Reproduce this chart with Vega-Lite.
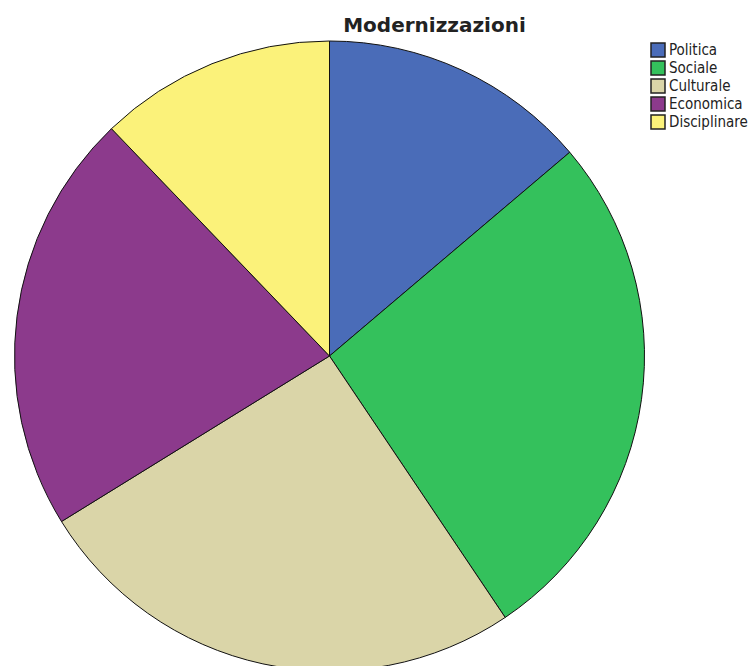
{
  "$schema": "https://vega.github.io/schema/vega-lite/v6.json",
  "autosize": "none",
  "padding": {"left": 0, "top": 0, "right": 92, "bottom": 0},
  "width": 659,
  "height": 712,
  "background": "white",
  "view": {"stroke": null},
  "title": {
    "text": "Modernizzazioni",
    "font": "DejaVu Sans",
    "fontSize": 20,
    "fontWeight": "bold",
    "color": "#222222",
    "anchor": "middle",
    "frame": "group",
    "baseline": "top",
    "dx": 105,
    "dy": 6,
    "offset": -30
  },
  "data": {
    "values": [
      {"categoria": "Politica", "valore": 49.7, "ordine": 1},
      {"categoria": "Sociale", "valore": 96.4, "ordine": 2},
      {"categoria": "Culturale", "valore": 92.2, "ordine": 3},
      {"categoria": "Economica", "valore": 77.9, "ordine": 4},
      {"categoria": "Disciplinare", "valore": 43.8, "ordine": 5}
    ]
  },
  "mark": {"type": "arc", "outerRadius": 315, "stroke": "#111111", "strokeWidth": 1},
  "encoding": {
    "theta": {"field": "valore", "type": "quantitative", "stack": true},
    "order": {"field": "ordine", "type": "quantitative"},
    "color": {
      "field": "categoria",
      "type": "nominal",
      "scale": {
        "domain": ["Politica", "Sociale", "Culturale", "Economica", "Disciplinare"],
        "range": ["#4A6CB8", "#34C15C", "#DAD5A8", "#8C3A8C", "#FBF27A"]
      },
      "legend": {
        "title": null,
        "orient": "none",
        "legendX": 650,
        "legendY": 42,
        "symbolType": "square",
        "symbolSize": 196,
        "symbolStrokeColor": "#222222",
        "symbolStrokeWidth": 1.5,
        "symbolOpacity": 1,
        "labelFont": "DejaVu Sans Condensed",
        "labelFontSize": 15,
        "labelColor": "#222222",
        "labelOffset": 3,
        "rowPadding": -5
      }
    }
  }
}
